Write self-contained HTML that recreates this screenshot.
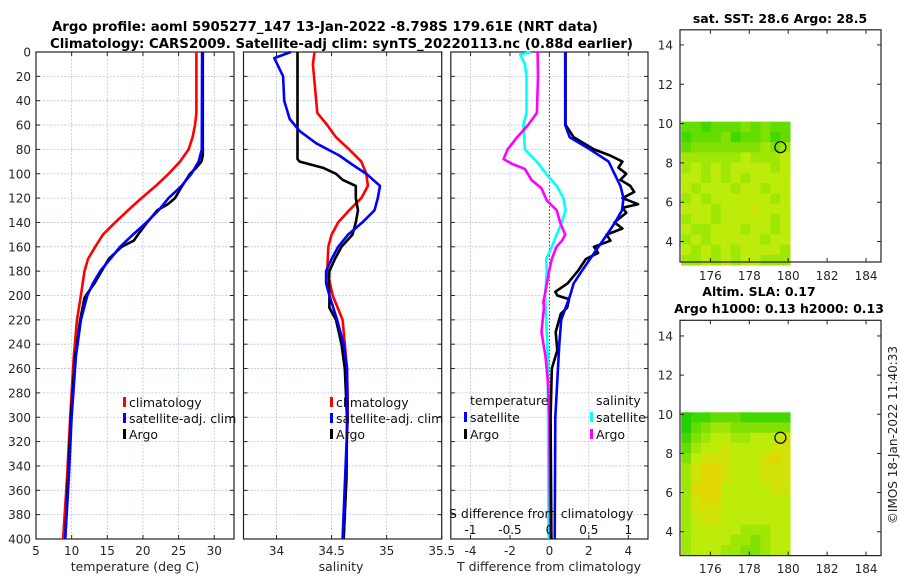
<!DOCTYPE html>
<html><head><meta charset="utf-8"><style>
html,body{margin:0;padding:0;background:#fff;}
svg{display:block;font-family:"DejaVu Sans","Liberation Sans",sans-serif;}
</style></head><body>
<svg id="fig" width="900" height="580" viewBox="0 0 900 580" xmlns="http://www.w3.org/2000/svg">
<rect x="0" y="0" width="900" height="580" fill="#fff"/>
<text x="325" y="31" text-anchor="middle" font-size="13.5" font-weight="bold" textLength="546" lengthAdjust="spacingAndGlyphs">Argo profile: aoml 5905277_147 13-Jan-2022 -8.798S 179.61E (NRT data)</text>
<text x="341.5" y="48" text-anchor="middle" font-size="13.5" font-weight="bold" textLength="583" lengthAdjust="spacingAndGlyphs">Climatology: CARS2009. Satellite-adj clim: synTS_20220113.nc (0.88d earlier)</text>
<g id="g1"></g>
<g id="g2"></g>
<g id="g3"></g>
<g id="m1"></g>
<g id="m2"></g>
<text transform="translate(897,435) rotate(-90)" text-anchor="middle" font-size="12" fill="#222">©IMOS 18-Jan-2022 11:40:33</text>
</svg>
<script>
// ---------- data ----------
const tClimD = [0,50,60,70,80,90,100,110,120,130,140,150,160,170,180,200,220,250,300,350,400];
const tClimV = [27.5,27.5,27.3,26.97,26.4,25.2,23.6,21.8,19.8,17.9,16.1,14.4,13.3,12.3,11.8,11.3,10.75,10.3,9.8,9.35,8.8];
const tSatD = [0,80,90,100,110,120,130,140,150,160,170,180,190,200,220,250,300,350,400];
const tSatV = [28.3,28.25,27.8,26.8,25.4,23.6,22.2,20.5,18.6,16.8,15.4,14.0,13.0,12.2,11.3,10.6,10.0,9.6,9.1];
const tArgoD = [0,85,90,95,100,110,115,120,125,130,135,140,150,155,160,170,180,190,200,202,220,250,300,400];
const tArgoV = [28.4,28.4,28.2,27.5,26.6,25.5,25.0,24.5,23.5,22.0,21.3,20.6,19.3,18.7,17.0,15.2,14.2,13.2,12.0,11.8,11.2,10.5,9.9,9.1];

const sClimD = [0,10,50,60,70,80,90,100,110,120,130,140,150,160,180,200,220,240,260,280,300,400];
const sClimV = [34.345,34.33,34.37,34.46,34.54,34.66,34.77,34.815,34.83,34.77,34.66,34.56,34.5,34.47,34.46,34.51,34.6,34.62,34.64,34.645,34.645,34.61];
const sSatD = [0,5,20,40,55,65,75,85,92,100,110,120,130,140,150,160,170,180,190,200,220,240,260,300,400];
const sSatV = [34.13,33.98,34.06,34.07,34.12,34.21,34.36,34.57,34.68,34.815,34.94,34.92,34.89,34.78,34.65,34.56,34.5,34.45,34.45,34.48,34.55,34.61,34.64,34.645,34.6];
const sArgoD = [0,88,90,95,100,105,110,120,130,140,150,160,170,180,190,200,210,220,240,260,300,350,400];
const sArgoV = [34.19,34.19,34.21,34.42,34.54,34.6,34.72,34.72,34.74,34.72,34.69,34.59,34.53,34.48,34.475,34.48,34.48,34.54,34.59,34.62,34.64,34.635,34.61];

const dTSatD = [0,60,70,80,90,100,110,120,130,140,150,160,170,180,190,200,220,240,300,400];
const dTSatV = [0.8,0.8,1.03,2.06,3.0,3.3,3.6,3.76,3.68,3.33,2.92,2.49,2.06,1.64,1.23,1.05,0.6,0.5,0.3,0.27];
const dTArgoD = [0,60,70,80,85,90,95,100,105,110,115,120,125,128,132,140,145,150,155,160,165,170,180,190,197,200,203,210,215,230,245,260,300,400];
const dTArgoV = [0.82,0.82,1.23,2.26,3.08,3.7,3.5,3.9,3.6,4.1,4.3,3.7,4.5,3.7,3.9,3.3,3.7,2.9,3.1,2.26,2.47,1.85,1.44,0.93,0.3,0.4,1.0,0.9,0.58,0.32,0.4,0.12,0.06,0.1];
const dSSatD = [0,2,10,20,50,60,80,90,100,110,120,130,140,150,160,170,180,200,250,400];
const dSSatV = [-0.23,-0.37,-0.31,-0.29,-0.29,-0.33,-0.31,-0.16,-0.04,0.093,0.177,0.206,0.156,0.093,0.03,-0.04,-0.033,-0.055,-0.02,-0.01];
const dSArgoD = [0,20,50,60,70,80,88,92,96,105,112,122,130,140,150,155,160,170,180,200,205,210,230,250,270,300,400];
const dSArgoV = [-0.15,-0.144,-0.158,-0.27,-0.41,-0.53,-0.58,-0.47,-0.31,-0.23,-0.1,-0.033,0.093,0.136,0.2,0.16,0.09,0.03,-0.004,-0.06,-0.076,-0.07,-0.1,-0.05,-0.02,0,0.01];

const depthTicks = [0,20,40,60,80,100,120,140,160,180,200,220,240,260,280,300,320,340,360,380,400];
const tTicks = [5,10,15,20,25,30];
const sTicks = ["34","34.5","35","35.5"];
const dTTicks = [-4,-2,0,2,4];
const dSTicks = ["-1","-0.5","0","0.5","1"];
const lonTicks = [176,178,180,182,184];
const latTicks = [4,6,8,10,12,14];

// map grids (0 = green ... 9 = yellow-orange), rows top (north) to bottom
const sstGrid = ["33233343433","23334233423","34444444545","55555565556","56565666656","66565656666","65666566566","56566666656","66656667666","56656666656","65566656656","56566666566","65656566665","55656566555"];
const slaGrid = ["12233322222","13455444444","24566556667","35667666677","46777666787","57887666777","57887666777","58886666677","57886666666","57776666666","56776666666","56666655566","56666554566","56665544566"];
const gridLon = [174.5, 180.1];
const gridLat = [10.1, 2.8];
const argoLon = 179.6, argoLat = 8.8;

// ---------- helpers ----------
const NS = "http://www.w3.org/2000/svg";
function mk(tag, attrs, parent){ const e=document.createElementNS(NS,tag); for(const k in attrs) e.setAttribute(k,attrs[k]); parent.appendChild(e); return e; }
const Y0=52, Y1=539;
const yD = d => Y0 + (d/400)*(Y1-Y0);
function linScale(d0,d1,r0,r1){ return v => r0 + (v-d0)/(d1-d0)*(r1-r0); }

function panel(g, x0, x1, xs, ticks, tickVals, showY){
  // grid
  depthTicks.forEach(d=>{
    const l=mk('line',{x1:x0,x2:x1,y1:yD(d),y2:yD(d),stroke:'#b8c4e4','stroke-width':0.8,'stroke-dasharray':'2,1.5'},g);
    
    
  });
  tickVals.forEach((v,i)=>{
    const x=xs(v);
    const l=mk('line',{x1:x,x2:x,y1:Y0,y2:Y1,stroke:'#b8c4e4','stroke-width':0.8,'stroke-dasharray':'2,1.5'},g);
    
    
    mk('line',{x1:x,x2:x,y1:Y1,y2:Y1-4,stroke:'#222'},g);
    mk('line',{x1:x,x2:x,y1:Y0,y2:Y0+4,stroke:'#222'},g);
    const t=mk('text',{x:x,y:555,'text-anchor':'middle','font-size':12,fill:'#262626'},g);
    t.textContent=ticks[i];
    
    
  });
  depthTicks.forEach(d=>{
    mk('line',{x1:x0,x2:x0+4,y1:yD(d),y2:yD(d),stroke:'#222'},g);
    mk('line',{x1:x1,x2:x1-4,y1:yD(d),y2:yD(d),stroke:'#222'},g);
    if(showY){
      const t=mk('text',{x:31,y:yD(d)+4.5,'text-anchor':'end','font-size':12,fill:'#262626'},g);
      t.textContent=d;
      
      
    }
  });
  const r=mk('rect',{x:x0,y:Y0,width:x1-x0,height:Y1-Y0,fill:'none',stroke:'#222','stroke-width':1.2},g);
  
  
}
function series(g, xs, ds, vs, color, name){
  const pts = ds.map((d,i)=>xs(vs[i]).toFixed(1)+','+yD(d).toFixed(1)).join(' ');
  const p=mk('polyline',{points:pts,fill:'none',stroke:color,'stroke-width':2.6,'stroke-linejoin':'round'},g);
  
  
}
function legendItem(g,x,yb,color,label,name){
  if(color){ mk('rect',{x:x-6,y:yb-10,width:3,height:10,fill:color},g); }
  const t=mk('text',{x:x,y:yb,'font-size':12.5,fill:'#111'},g);
  t.textContent=label;
  
  
}

// ---------- panel 1 ----------
const g1=document.getElementById('g1');
const xT=linScale(5,32.77,36,234);
panel(g1,36,234,xT,tTicks,tTicks,true);
series(g1,xT,tClimD,tClimV,'#ff0000','temp-climatology-line');
series(g1,xT,tArgoD,tArgoV,'#000000','temp-argo-line');
series(g1,xT,tSatD,tSatV,'#0000ff','temp-satellite-line');
legendItem(g1,129,407,'#ff0000','climatology','legend-climatology');
legendItem(g1,129,423,'#0000ff','satellite-adj. clim','legend-satellite');
legendItem(g1,129,439,'#000000','Argo','legend-argo');
let lab=mk('text',{x:135,y:571,'text-anchor':'middle','font-size':12.5,fill:'#262626'},g1);
lab.textContent='temperature (deg C)';



// ---------- panel 2 ----------
const g2=document.getElementById('g2');
const xS=linScale(33.7,35.5,243.5,441.7);
panel(g2,243.5,441.7,xS,sTicks,sTicks.map(Number),false);
series(g2,xS,sClimD,sClimV,'#ff0000','sal-climatology-line');
series(g2,xS,sArgoD,sArgoV,'#000000','sal-argo-line');
series(g2,xS,sSatD,sSatV,'#0000ff','sal-satellite-line');
legendItem(g2,336,407,'#ff0000','climatology','legend-climatology');
legendItem(g2,336,423,'#0000ff','satellite-adj. clim','legend-satellite');
legendItem(g2,336,439,'#000000','Argo','legend-argo');
lab=mk('text',{x:341,y:571,'text-anchor':'middle','font-size':12.5,fill:'#262626'},g2);
lab.textContent='salinity';



// ---------- panel 3 ----------
const g3=document.getElementById('g3');
const xDT=linScale(-5,5,450.8,648);
const xDS=v=>xDT(v*4);
panel(g3,450.8,648,xDT,dTTicks,dTTicks,false);
let z=mk('line',{x1:xDT(0),x2:xDT(0),y1:Y0,y2:Y1,stroke:'#444','stroke-width':1,'stroke-dasharray':'1.5,2'},g3);


series(g3,xDS,dSSatD,dSSatV,'#00ffff','sal-diff-satellite-line');
series(g3,xDS,dSArgoD,dSArgoV,'#ff00ff','sal-diff-argo-line');
series(g3,xDT,dTArgoD,dTArgoV,'#000000','temp-diff-argo-line');
series(g3,xDT,dTSatD,dTSatV,'#0000ff','temp-diff-satellite-line');
legendItem(g3,470,405,null,'temperature','legend-temperature-heading');
legendItem(g3,470,422,'#0000ff','satellite','legend-temp-satellite');
legendItem(g3,470,439,'#000000','Argo','legend-temp-argo');
legendItem(g3,596,405,null,'salinity','legend-salinity-heading');
legendItem(g3,596,422,'#00ffff','satellite','legend-sal-satellite');
legendItem(g3,596,439,'#ff00ff','Argo','legend-sal-argo');
lab=mk('text',{x:449,y:518,'font-size':12.5,fill:'#111'},g3);
lab.textContent='S difference from climatology';


dSTicks.forEach(s=>{
  const t=mk('text',{x:xDS(Number(s)),y:534,'text-anchor':'middle','font-size':12,fill:'#111'},g3);
  t.textContent=s;
  
  
});
lab=mk('text',{x:549,y:571,'text-anchor':'middle','font-size':12.5,fill:'#262626'},g3);
lab.textContent='T difference from climatology';



// ---------- maps ----------
function colorOf(v){
  const stops=[[0,[0,204,0]],[3,[100,220,0]],[6,[190,236,10]],[9,[245,205,0]]];
  for(let i=0;i<stops.length-1;i++){
    const [a,ca]=stops[i],[b,cb]=stops[i+1];
    if(v<=b){ const t=(v-a)/(b-a); return 'rgb('+ca.map((c,j)=>Math.round(c+(cb[j]-c)*t)).join(',')+')'; }
  }
  return 'rgb(245,205,0)';
}
function mapPanel(g, top, bot, latTop, latBot, grid, titles, lonLabY){
  const x0=680,x1=881;
  const xs=linScale(174.44,184.77,x0,x1), ys=linScale(latTop,latBot,top,bot);
  const rows=grid.length, cols=grid[0].length;
  const cw=(xs(gridLon[1])-xs(gridLon[0]))/cols, rh=(ys(gridLat[1])-ys(gridLat[0]))/rows;
  grid.forEach((row,ri)=>{
    for(let ci=0;ci<cols;ci++){
      const c=mk('rect',{x:(xs(gridLon[0])+ci*cw).toFixed(2),y:(ys(gridLat[0])+ri*rh).toFixed(2),width:(cw+0.4).toFixed(2),height:(rh+0.4).toFixed(2),fill:colorOf(Number(row[ci]))},g);
      
      
    }
  });
  const ci=mk('circle',{cx:xs(argoLon),cy:ys(argoLat),r:5.5,fill:'none',stroke:'#000','stroke-width':1.2},g);
  
  
  lonTicks.forEach(v=>{
    mk('line',{x1:xs(v),x2:xs(v),y1:bot,y2:bot-4,stroke:'#222'},g);
    mk('line',{x1:xs(v),x2:xs(v),y1:top,y2:top+4,stroke:'#222'},g);
    const t=mk('text',{x:xs(v),y:lonLabY,'text-anchor':'middle','font-size':12,fill:'#262626'},g);
    t.textContent=v;
    
    
  });
  latTicks.forEach(v=>{
    mk('line',{x1:x0,x2:x0+4,y1:ys(v),y2:ys(v),stroke:'#222'},g);
    mk('line',{x1:x1,x2:x1-4,y1:ys(v),y2:ys(v),stroke:'#222'},g);
    const t=mk('text',{x:673,y:ys(v)+4.5,'text-anchor':'end','font-size':12,fill:'#262626'},g);
    t.textContent=v;
    
    
  });
  const r=mk('rect',{x:x0,y:top,width:x1-x0,height:bot-top,fill:'none',stroke:'#222','stroke-width':1.2},g);
  
  
  titles.forEach(tt=>{
    const t=mk('text',{x:tt[0],y:tt[1],'text-anchor':'middle','font-size':12.5,'font-weight':'bold',fill:'#000'},g);
    t.textContent=tt[2];
    
    
  });
}
mapPanel(document.getElementById('m1'),29.8,262,14.77,2.96,sstGrid,[[780,23,'sat. SST: 28.6 Argo: 28.5']],280);
mapPanel(document.getElementById('m2'),320.3,555.6,14.8,2.78,slaGrid,[[759,296,'Altim. SLA: 0.17'],[779,313,'Argo h1000: 0.13 h2000: 0.13']],573);
</script>
</body></html>
